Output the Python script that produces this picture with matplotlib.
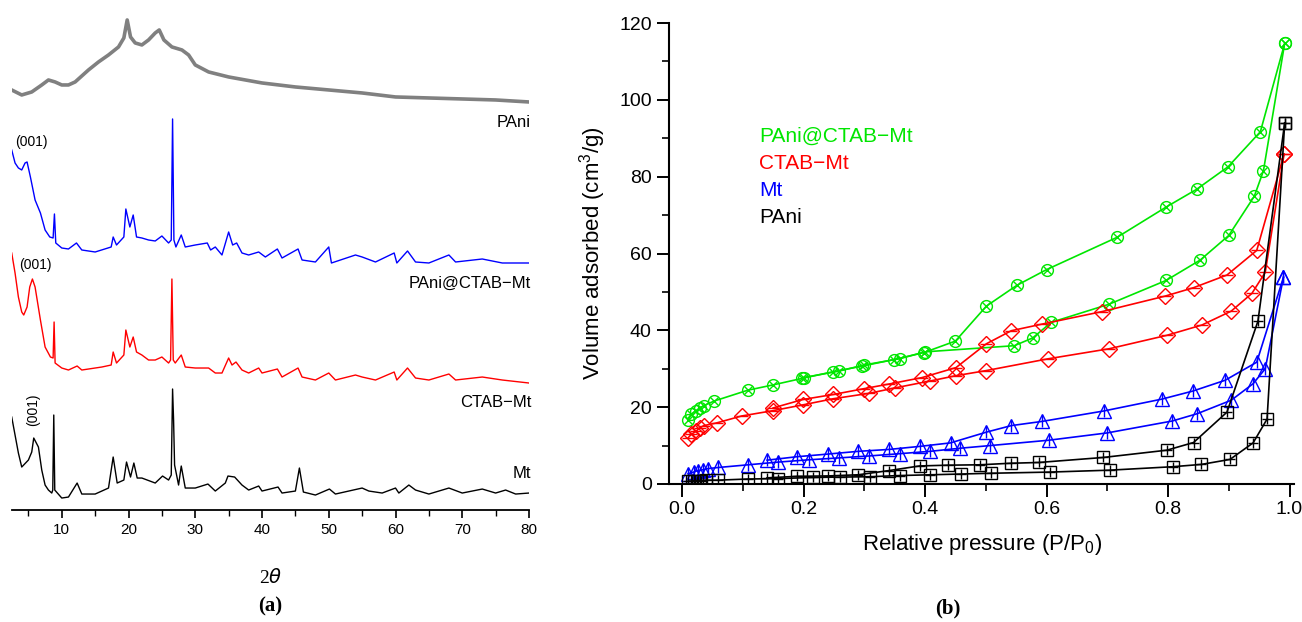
"""XRD patterns (a) and N2 adsorption isotherms (b) of PAni, Mt, CTAB-Mt and PAni@CTAB-Mt."""
import numpy as np
import matplotlib
matplotlib.use('Agg')
import matplotlib.pyplot as plt
from matplotlib.ticker import MultipleLocator

plt.rcParams['mathtext.default'] = 'regular'
NARROW = ['Liberation Sans Narrow', 'Liberation Sans', 'DejaVu Sans']
SANS = ['Liberation Sans', 'DejaVu Sans']
SERIF = ['Liberation Serif', 'DejaVu Serif']

# ---- (a) XRD, intensities (arbitrary units) ----
mt_tt = [2.5, 3.5, 4, 5, 5.5, 5.8, 6.5, 7, 7.5, 8, 8.5, 8.65, 8.8, 8.95, 10, 11, 12.3, 13, 15, 17,
         17.7, 18.3, 19.3, 19.7, 20.3, 20.8, 21.3, 22, 24, 25.1, 26, 26.4, 26.6, 26.75, 26.9, 27.5,
         27.9, 28.5, 30, 31.9, 33, 34.5, 34.9, 35.9, 37, 38, 39.5, 40, 42.4, 43, 45, 45.6, 46.2, 48,
         50.1, 51, 55, 56, 58, 60, 60.5, 62, 63, 65, 68, 70, 73, 75, 76.5, 78, 80]
mt_int = [93, 57, 43, 50, 58, 72, 63, 40, 25, 20, 17, 20, 95, 20, 12, 13, 27, 16, 16, 22,
          53, 27, 30, 48, 33, 47, 32, 32, 27, 34, 30, 35, 121, 90, 45, 25,
          44, 22, 22, 26, 19, 27, 34, 33, 25, 20, 24, 19, 23, 17, 19, 42, 18, 15,
          21, 16, 22, 19, 17, 22, 17, 25, 20, 16, 22, 17, 21, 17, 20, 16, 17]

ctab_tt = [2.5, 3.0, 3.5, 4.0, 4.3, 4.8, 5.2, 5.6, 6.0, 6.8, 7.5, 8.3, 8.7, 8.85, 9.0, 10, 11, 12.3,
           13, 16, 17.4, 17.7, 18.2, 19.3, 19.6, 20.2, 20.7, 21.2, 22, 23, 24, 25, 26, 26.3, 26.5,
           26.7, 27, 27.9, 28.5, 30, 32, 33, 34, 35, 35.5, 36.1, 37, 38, 39.5, 40, 42.3, 43, 45.4,
           46, 48, 50, 51, 54, 55, 57, 59.8, 60.2, 61.8, 63, 65, 68, 69, 73, 76, 80]
ctab_int = [132, 112, 88, 73, 70, 78, 98, 106, 98, 65, 38, 28, 27, 63, 22, 17, 15, 19,
            15, 18, 20, 33, 22, 30, 55, 38, 48, 33, 30, 25, 25, 28, 22, 25, 106,
            25, 22, 30, 18, 17, 17, 12, 12, 27, 20, 23, 15, 12, 17, 12, 16, 8, 17,
            8, 5, 12, 5, 10, 8, 5, 13, 5, 17, 7, 5, 11, 5, 8, 5, 2]

comp_tt = [2.5, 3.0, 3.5, 4.0, 4.5, 4.8, 5.3, 6.0, 6.8, 7.5, 8.2, 8.7, 8.9, 9.1, 10, 11, 12.2, 13,
           15, 17.4, 17.7, 18.2, 19.3, 19.6, 20.2, 20.7, 21.2, 22, 23, 24, 25, 26, 26.4, 26.6, 26.8,
           27.1, 27.9, 28.5, 30, 31.8, 32.3, 33, 34, 35, 35.6, 36.2, 37, 38, 39.5, 40.5, 42.3, 43,
           45.4, 46, 48, 50, 50.4, 54, 55, 57, 59.8, 60.2, 61.8, 63, 65, 68, 69, 73, 76, 80]
comp_int = [115, 102, 97, 95, 102, 103, 88, 65, 52, 35, 28, 27, 51, 22, 17, 16, 22, 15,
            13, 18, 28, 20, 28, 56, 38, 50, 28, 27, 25, 24, 29, 22, 25, 146, 25,
            18, 30, 18, 20, 22, 15, 18, 10, 33, 20, 22, 12, 10, 13, 8, 16, 7,
            16, 5, 3, 18, 2, 10, 8, 3, 12, 2, 14, 3, 2, 10, 3, 6, 2, 2]

pani_tt = [2.5, 4, 5.5, 7, 8, 9, 10, 11, 12, 14, 15.5, 17, 18.5, 19.3, 19.8, 20.3, 21, 22, 23, 24,
           24.6, 25.3, 26.5, 28, 29, 30, 32, 35, 40, 45, 50, 55, 60, 65, 70, 75, 80]
pani_int = [15, 10, 13, 20, 25, 23, 20, 20, 23, 35, 43, 50, 58, 67, 85, 68, 62, 60, 65, 72,
            75, 65, 58, 55, 50, 40, 33, 28, 22, 18, 15, 12, 8, 7, 6, 5, 3]

xrd_names = ['Mt', 'CTAB\u2212Mt', 'PAni@CTAB\u2212Mt', 'PAni']
xrd_colors = ['black', 'red', 'blue', 'gray']
xrd_offsets = [0, 125, 245, 405]
label_heights = [37, 108, 227, 387]

# ---- (b) N2 isotherms: adsorption / desorption branches ----
g_ads_x = [0.010, 0.015, 0.023, 0.029, 0.036, 0.053, 0.108, 0.150, 0.198, 0.248, 0.297, 0.349,
           0.398, 0.450, 0.501, 0.551, 0.600, 0.716, 0.797, 0.847, 0.899, 0.952, 0.992]
g_ads_y = [16.6, 18.1, 19.1, 19.8, 20.4, 21.6, 24.4, 25.8, 27.5, 29.2, 30.7, 32.4,
           34.2, 37.2, 46.3, 51.7, 55.8, 64.2, 72.1, 76.7, 82.6, 91.7, 114.7]
g_des_x = [0.992, 0.957, 0.942, 0.900, 0.853, 0.797, 0.703, 0.608, 0.577, 0.547, 0.400, 0.358,
           0.300, 0.259, 0.200]
g_des_y = [114.7, 81.5, 74.9, 64.7, 58.3, 53.0, 46.8, 42.1, 38.0, 36.0, 34.4, 32.6,
           31.0, 29.4, 27.7]

r_ads_x = [0.010, 0.015, 0.023, 0.029, 0.036, 0.057, 0.098, 0.150, 0.199, 0.249, 0.308, 0.350,
           0.408, 0.451, 0.500, 0.603, 0.703, 0.798, 0.856, 0.904, 0.938, 0.960, 0.991]
r_ads_y = [12.0, 12.9, 13.7, 14.6, 15.2, 15.9, 17.7, 19.1, 20.6, 22.2, 23.6, 25.0,
           26.8, 28.2, 29.5, 32.6, 35.2, 38.7, 41.4, 45.0, 49.6, 55.1, 85.9]
r_des_x = [0.991, 0.946, 0.897, 0.842, 0.795, 0.692, 0.592, 0.542, 0.501, 0.451, 0.395, 0.340,
           0.299, 0.249, 0.199, 0.150]
r_des_y = [85.9, 60.8, 54.4, 51.1, 48.9, 44.9, 41.6, 39.9, 36.5, 30.3, 27.7, 26.0,
           24.8, 23.3, 22.0, 19.8]

b_ads_x = [0.010, 0.019, 0.026, 0.034, 0.042, 0.060, 0.109, 0.158, 0.209, 0.259, 0.308, 0.359,
           0.408, 0.457, 0.507, 0.604, 0.700, 0.807, 0.848, 0.904, 0.940, 0.960, 0.990]
b_ads_y = [2.7, 3.1, 3.5, 3.7, 4.0, 4.3, 5.0, 5.7, 6.3, 6.8, 7.3, 7.9,
           8.5, 9.3, 10.0, 11.4, 13.3, 16.4, 18.3, 21.8, 26.1, 30.0, 53.8]
b_des_x = [0.990, 0.946, 0.894, 0.841, 0.790, 0.694, 0.593, 0.542, 0.501, 0.442, 0.392, 0.341,
           0.290, 0.241, 0.189, 0.140]
b_des_y = [53.8, 31.7, 27.0, 24.2, 22.1, 19.0, 16.3, 15.2, 13.5, 10.7, 9.8, 9.0,
           8.5, 7.8, 7.1, 6.2]

k_ads_x = [0.010, 0.017, 0.024, 0.031, 0.040, 0.059, 0.109, 0.158, 0.215, 0.260, 0.310, 0.358,
           0.409, 0.460, 0.509, 0.605, 0.704, 0.808, 0.855, 0.902, 0.940, 0.963, 0.992]
k_ads_y = [0.7, 0.8, 0.9, 0.9, 1.0, 1.0, 1.3, 1.4, 1.7, 1.8, 1.9, 2.2,
           2.4, 2.6, 2.8, 3.1, 3.6, 4.5, 5.1, 6.4, 10.7, 16.9, 94.0]
k_des_x = [0.992, 0.948, 0.897, 0.842, 0.798, 0.693, 0.587, 0.541, 0.490, 0.438, 0.391, 0.341,
           0.290, 0.240, 0.190, 0.140]
k_des_y = [94.0, 42.4, 18.7, 10.8, 8.8, 6.9, 5.6, 5.4, 5.0, 4.9, 4.7, 3.5,
           2.4, 2.1, 2.0, 1.6]

iso_names = ['PAni@CTAB\u2212Mt', 'CTAB\u2212Mt', 'Mt', 'PAni']
iso_colors = ['#00e600', '#ff0000', '#0000ff', '#000000']

fig = plt.figure(figsize=(13.02, 6.22), dpi=100)

# ---------------- panel (a) ----------------
ax = fig.add_axes([0.009, 0.18, 0.3973, 0.804])
xrd = [(mt_tt, mt_int), (ctab_tt, ctab_int), (comp_tt, comp_int), (pani_tt, pani_int)]
for (tt, inten), c, off, name, h in zip(xrd, xrd_colors, xrd_offsets, xrd_names, label_heights):
    lw = 2.6 if c == 'gray' else 1.0
    ax.plot(tt, np.array(inten) + off, color=c, lw=lw)
    ax.text(80.3, h, name, ha='right', va='center', fontsize=12, family=SANS)

ax.text(5.5, 368, '(001)', ha='center', va='center', fontsize=10, family=SANS)
ax.text(6.1, 245, '(001)', ha='center', va='center', fontsize=10, family=SANS)
ax.text(5.7, 100, '(001)', ha='center', va='center', fontsize=10, family=SANS, rotation=90)

ax.set_xlim(2.5, 80)
ax.set_ylim(0, 500)
for s in ['left', 'right', 'top']:
    ax.spines[s].set_visible(False)
ax.spines['bottom'].set_linewidth(1.3)
ax.set_yticks([])
ax.xaxis.set_major_locator(MultipleLocator(10))
ax.xaxis.set_minor_locator(MultipleLocator(5))
ax.tick_params(axis='x', which='major', direction='out', length=6, width=1.2, labelsize=11)
ax.tick_params(axis='x', which='minor', direction='out', length=4, width=1.0)
ax.set_xticks([10, 20, 30, 40, 50, 60, 70, 80])
for lab in ax.get_xticklabels():
    lab.set_family(SANS)
ax.set_xlabel(r'2$\mathit{\theta}$', fontsize=14, family=SERIF, labelpad=22)
fig.text(270 / 1302, 1 - 606 / 622, '(a)', ha='center', va='center', fontsize=15,
         family=SERIF, weight='bold')

# ---------------- panel (b) ----------------
bx = fig.add_axes([669 / 1302, 1 - 484 / 622, (1294.4 - 669) / 1302, (484 - 23) / 622])
iso = [(g_ads_x, g_ads_y, g_des_x, g_des_y), (r_ads_x, r_ads_y, r_des_x, r_des_y),
       (b_ads_x, b_ads_y, b_des_x, b_des_y), (k_ads_x, k_ads_y, k_des_x, k_des_y)]
outer = ['o', 'D', '^', 's']
inner = ['x', '_', '|', '+']
osize = [8.5, 8.5, 9.5, 8]
isize = [6, 9, 9, 7]
for (ax_, ay_, dx_, dy_), c, mo, mi, so, si in zip(iso, iso_colors, outer, inner, osize, isize):
    for xs, ys in [(ax_, ay_), (dx_, dy_)]:
        bx.plot(xs, ys, color=c, lw=1.2, marker=mo, ms=so, mfc='none', mec=c, mew=1.0)
        bx.plot(xs, ys, ls='none', marker=mi, ms=si, mec=c, mew=1.0)

legend_y = [90.4, 83.5, 76.3, 69.4]
for name, c, yy in zip(iso_names, iso_colors, legend_y):
    bx.text(0.127, yy, name, color=c, fontsize=15, va='center', ha='left', family=NARROW)

bx.set_xlim(-0.0214, 1.008)
bx.set_ylim(0, 120)
for s in ['right', 'top']:
    bx.spines[s].set_visible(False)
for s in ['left', 'bottom']:
    bx.spines[s].set_linewidth(1.5)
bx.xaxis.set_major_locator(MultipleLocator(0.2))
bx.xaxis.set_minor_locator(MultipleLocator(0.1))
bx.yaxis.set_major_locator(MultipleLocator(20))
bx.yaxis.set_minor_locator(MultipleLocator(10))
bx.tick_params(which='major', direction='out', length=9, width=1.4, labelsize=14)
bx.tick_params(which='minor', direction='out', length=5, width=1.2)
bx.xaxis.set_major_formatter(matplotlib.ticker.FormatStrFormatter('%.1f'))
for lab in bx.get_xticklabels() + bx.get_yticklabels():
    lab.set_family(NARROW)
bx.set_xlabel('Relative pressure (P/P$_0$)', fontsize=16, family=NARROW, labelpad=10)
bx.set_ylabel('Volume adsorbed (cm$^3$/g)', fontsize=16, family=NARROW, labelpad=8)
fig.text(948 / 1302, 1 - 608 / 622, '(b)', ha='center', va='center', fontsize=15,
         family=SERIF, weight='bold')

fig.savefig('out.png', dpi=100)
